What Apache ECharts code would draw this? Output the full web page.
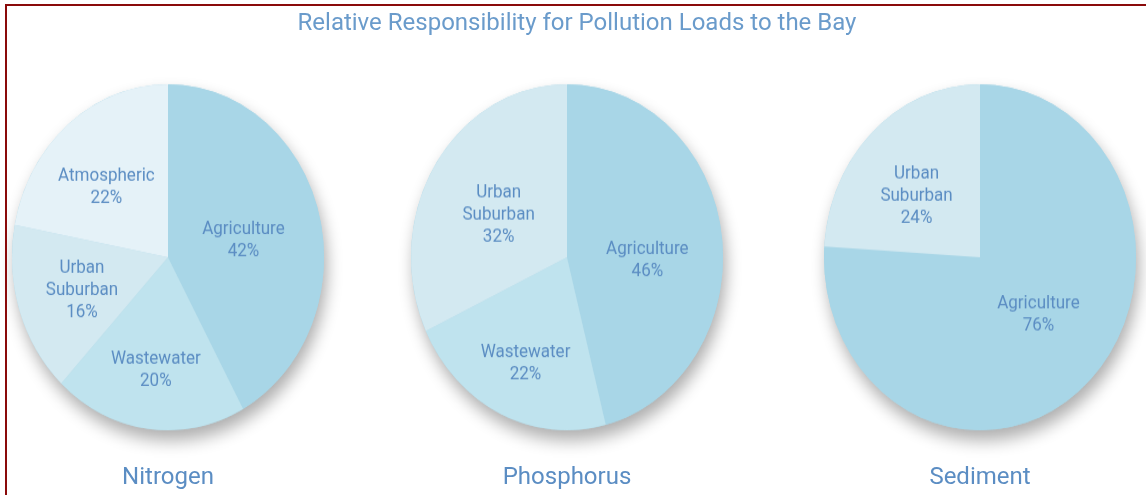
<!DOCTYPE html>
<html>
<head>
<meta charset="utf-8">
<title>Relative Responsibility for Pollution Loads to the Bay</title>
<script src="https://cdn.jsdelivr.net/npm/echarts@6/dist/echarts.min.js"></script>
<style>
  html, body { margin: 0; padding: 0; background: #fff; }
  #wrap { position: relative; width: 1146px; height: 495px; overflow: hidden; }
  #frame { position: absolute; left: 5px; top: 4px; right: -10px; bottom: -10px;
           border-left: 2px solid #8a0a0a; border-top: 2px solid #8a0a0a; }
  /* the pies in the source are slightly taller than wide */
  #pies { position: absolute; left: 0; top: 0; width: 1146px; height: 446px;
          transform: scaleY(1.109); transform-origin: 0 0; }
  #texts { position: absolute; left: 0; top: 0; width: 1146px; height: 495px; }
</style>
</head>
<body>
<div id="wrap">
  <div id="pies"></div>
  <div id="texts"></div>
  <div id="frame"></div>
</div>
<script>
// data
const pieNames = ['Nitrogen', 'Phosphorus', 'Sediment']
const nitrogenCats = ['Agriculture', 'Wastewater', 'Urban\nSuburban', 'Atmospheric']
const nitrogenVals = [42, 20, 16, 22]
const phosphorusCats = ['Agriculture', 'Wastewater', 'Urban\nSuburban']
const phosphorusVals = [46, 22, 32]
const sedimentCats = ['Agriculture', 'Urban\nSuburban']
const sedimentVals = [76, 24]

const sliceColors = {
  'Agriculture': '#a8d6e7',
  'Wastewater': '#bfe3ee',
  'Urban\nSuburban': '#d3e9f1',
  'Atmospheric': '#e5f2f8'
}
// small nudges of the slice labels, to sit where the source put them
const labelNudge = [
  [[-3, 5], [-2, 21], [-9, 5], [-10, -1]],
  [[0, 13], [-7, 22], [0, 5]],
  [[3, -7], [-8, 4]]
]
const textColor = '#5b8dc3'
const font = 'Roboto, "Liberation Sans", sans-serif'

const centersX = [168, 567, 980]
const centerY = 232
const radius = 156

function buildSeries (cats, vals, i) {
  const data = []
  for (let k = 0; k < cats.length; k++) {
    data.push({
      name: cats[k],
      value: vals[k],
      itemStyle: { color: sliceColors[cats[k]] },
      label: { offset: labelNudge[i][k] }
    })
  }
  // soft shadow under each pie
  const shadow = {
    type: 'pie',
    silent: true,
    z: 1,
    center: [centersX[i], centerY],
    radius: radius,
    label: { show: false },
    labelLine: { show: false },
    itemStyle: {
      color: '#a8d6e7',
      shadowBlur: 16,
      shadowOffsetX: 3,
      shadowOffsetY: 9,
      shadowColor: 'rgba(0, 0, 0, 0.33)'
    },
    data: [{ name: '', value: 1 }]
  }
  const pie = {
    type: 'pie',
    z: 2,
    silent: true,
    center: [centersX[i], centerY],
    radius: radius,
    startAngle: 90,
    clockwise: true,
    animation: false,
    label: {
      show: true,
      position: 'inner',
      formatter: '{b}\n{c}%',
      color: textColor,
      fontSize: 17,
      lineHeight: 20,
      fontFamily: font,
      align: 'center'
    },
    labelLine: { show: false },
    itemStyle: { borderWidth: 0 },
    emphasis: { disabled: true },
    data: data
  }
  return [shadow, pie]
}

const pieChart = echarts.init(document.getElementById('pies'))
pieChart.setOption({
  animation: false,
  series: [].concat(
    buildSeries(nitrogenCats, nitrogenVals, 0),
    buildSeries(phosphorusCats, phosphorusVals, 1),
    buildSeries(sedimentCats, sedimentVals, 2)
  )
})

// title boxes carry 5px padding, hence the -5
const titles = [{
  text: 'Relative Responsibility for Pollution Loads to the Bay',
  left: 572,
  top: 7,
  textAlign: 'center',
  textStyle: { color: '#6a9bcb', fontSize: 24, fontWeight: 'normal', fontFamily: font }
}]
for (let i = 0; i < pieNames.length; i++) {
  titles.push({
    text: pieNames[i],
    left: centersX[i] - 5,
    top: 461,
    textAlign: 'center',
    textStyle: { color: textColor, fontSize: 24, fontWeight: 'normal', fontFamily: font }
  })
}

const textChart = echarts.init(document.getElementById('texts'))
textChart.setOption({ animation: false, title: titles })
</script>
</body>
</html>
